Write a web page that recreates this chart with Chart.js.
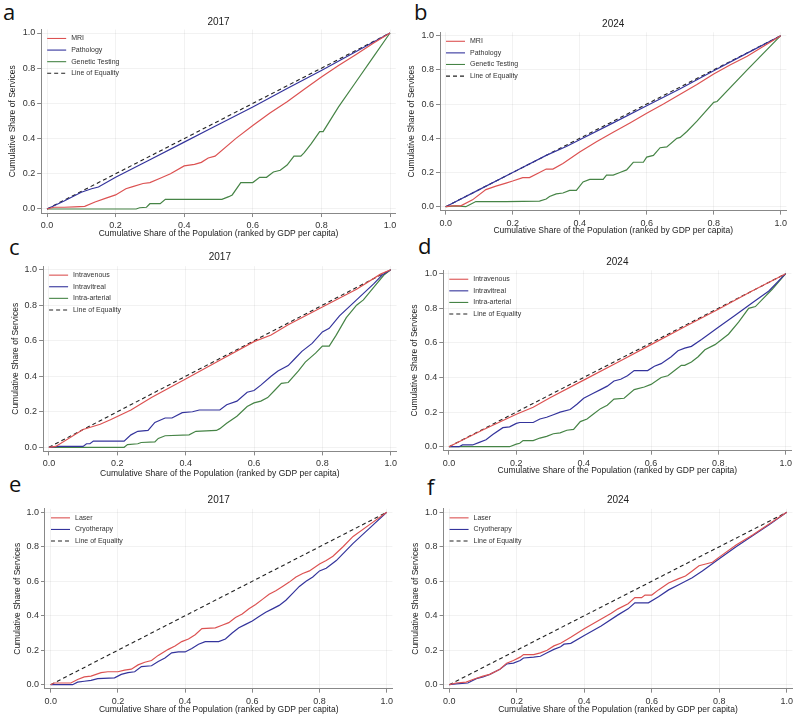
<!DOCTYPE html>
<html><head><meta charset="utf-8">
<script src="https://cdn.jsdelivr.net/npm/chart.js@4/dist/chart.umd.min.js"></script>
<style>
html,body{margin:0;padding:0;background:#fff;width:800px;height:725px;overflow:hidden;position:relative;font-family:"Liberation Sans",Arial,sans-serif}
canvas{position:absolute}
.lt{position:absolute;font-family:"Open Sans",sans-serif;font-size:22px;line-height:22px;color:#111}
</style></head><body>
<div class="lt" style="left:3px;top:0px">a</div>
<div class="lt" style="left:414px;top:0px">b</div>
<div class="lt" style="left:9px;top:235px">c</div>
<div class="lt" style="left:418px;top:234px">d</div>
<div class="lt" style="left:9px;top:472px">e</div>
<div class="lt" style="left:427px;top:475px">f</div>
<script>
// ---------- tick labels ----------
const axisTicks = [0, 0.2, 0.4, 0.6, 0.8, 1.0];
const xAxisTitle = 'Cumulative Share of the Population (ranked by GDP per capita)';
const yAxisTitle = 'Cumulative Share of Services';
const panelYears = ['2017', '2024', '2017', '2024', '2017', '2024'];

// ---------- line of equality ----------
const equalityX = [0, 1];
const equalityY = [0, 1];

// ---------- panel a (2017, diagnostics) ----------
const mriA_x = [0,0.02,0.05,0.08,0.11,0.14,0.17,0.2,0.23,0.25,0.28,0.3,0.33,0.36,0.4,0.43,0.45,0.47,0.49,0.55,0.6,0.65,0.7,0.75,0.8,0.85,0.9,0.95,1];
const mriA_y = [0,0.01,0.01,0.012,0.015,0.04,0.06,0.08,0.115,0.127,0.145,0.15,0.175,0.2,0.245,0.254,0.265,0.29,0.3,0.4,0.475,0.545,0.61,0.68,0.75,0.815,0.877,0.94,1];
const pathA_x = [0,0.05,0.1,0.13,0.15,0.2,0.3,0.4,0.47,0.5,0.57,0.6,0.7,0.8,0.9,1];
const pathA_y = [0,0.045,0.095,0.115,0.125,0.18,0.28,0.38,0.45,0.48,0.55,0.58,0.685,0.787,0.893,1];
const geneA_x = [0,0.26,0.27,0.29,0.3,0.33,0.345,0.51,0.53,0.54,0.565,0.6,0.62,0.64,0.66,0.68,0.7,0.72,0.74,0.75,0.77,0.795,0.805,0.85,0.9,0.95,1];
const geneA_y = [0,0,0.007,0.01,0.03,0.03,0.055,0.055,0.07,0.08,0.15,0.15,0.18,0.18,0.21,0.22,0.25,0.3,0.3,0.32,0.37,0.44,0.44,0.58,0.72,0.86,1];

// ---------- panel b (2024, diagnostics) ----------
const mriB_x = [0,0.02,0.045,0.08,0.12,0.15,0.18,0.2,0.23,0.25,0.28,0.3,0.32,0.35,0.4,0.45,0.5,0.55,0.6,0.65,0.7,0.75,0.8,0.85,0.9,0.95,1];
const mriB_y = [0,0.005,0.005,0.04,0.1,0.12,0.138,0.15,0.17,0.17,0.2,0.22,0.22,0.253,0.32,0.38,0.435,0.49,0.546,0.6,0.657,0.715,0.776,0.83,0.88,0.94,1];
const pathB_x = [0,0.1,0.2,0.3,0.36,0.4,0.5,0.6,0.7,0.8,0.9,1];
const pathB_y = [0,0.1,0.2,0.3,0.352,0.392,0.49,0.59,0.69,0.795,0.898,1];
const geneB_x = [0,0.03,0.06,0.07,0.09,0.18,0.28,0.3,0.31,0.33,0.35,0.37,0.39,0.41,0.43,0.47,0.48,0.5,0.52,0.54,0.56,0.59,0.6,0.62,0.64,0.66,0.69,0.7,0.72,0.75,0.8,0.81,0.9,1];
const geneB_y = [0,0.005,0,0.01,0.03,0.03,0.033,0.045,0.06,0.075,0.08,0.095,0.095,0.145,0.16,0.16,0.185,0.185,0.2,0.215,0.26,0.26,0.29,0.3,0.345,0.35,0.4,0.405,0.44,0.5,0.61,0.615,0.8,1];

// ---------- panel c (2017, routes) ----------
const ivC_x = [0,0.02,0.1,0.15,0.18,0.24,0.3,0.4,0.5,0.6,0.65,0.7,0.8,0.9,0.97,1];
const ivC_y = [0,0.005,0.1,0.13,0.155,0.21,0.28,0.385,0.49,0.595,0.632,0.69,0.79,0.89,0.975,1];
const ivtC_x = [0,0.03,0.1,0.11,0.12,0.13,0.22,0.24,0.26,0.29,0.31,0.34,0.36,0.39,0.42,0.44,0.5,0.52,0.55,0.58,0.6,0.62,0.65,0.67,0.7,0.72,0.74,0.77,0.8,0.82,0.85,0.9,0.95,0.975,1];
const ivtC_y = [0,0.005,0.005,0.02,0.02,0.035,0.035,0.07,0.09,0.095,0.14,0.165,0.165,0.195,0.2,0.21,0.21,0.24,0.26,0.31,0.32,0.35,0.4,0.43,0.46,0.5,0.54,0.585,0.65,0.67,0.74,0.83,0.92,0.97,1];
const iaC_x = [0,0.22,0.23,0.26,0.27,0.31,0.32,0.34,0.41,0.43,0.49,0.5,0.52,0.55,0.58,0.6,0.62,0.64,0.66,0.68,0.7,0.73,0.75,0.78,0.8,0.82,0.84,0.87,0.9,0.92,0.95,0.98,1];
const iaC_y = [0,0,0.015,0.02,0.027,0.03,0.05,0.065,0.07,0.09,0.095,0.105,0.135,0.175,0.23,0.25,0.26,0.28,0.32,0.36,0.365,0.43,0.48,0.53,0.57,0.57,0.63,0.73,0.8,0.83,0.9,0.97,1];

// ---------- panel d (2024, routes) ----------
const ivD_x = [0,0.1,0.2,0.25,0.3,0.4,0.5,0.6,0.7,0.8,0.9,1];
const ivD_y = [0,0.097,0.188,0.228,0.283,0.385,0.487,0.59,0.693,0.795,0.9,1];
const ivtD_x = [0,0.03,0.04,0.07,0.09,0.11,0.13,0.16,0.18,0.2,0.21,0.25,0.27,0.29,0.31,0.33,0.36,0.38,0.4,0.43,0.45,0.47,0.49,0.51,0.53,0.55,0.59,0.61,0.63,0.66,0.68,0.7,0.72,0.75,0.8,0.85,0.9,0.95,1];
const ivtD_y = [0,0,0.01,0.01,0.025,0.04,0.07,0.11,0.115,0.135,0.14,0.14,0.16,0.17,0.185,0.2,0.215,0.245,0.28,0.31,0.33,0.35,0.38,0.39,0.41,0.44,0.44,0.465,0.48,0.52,0.555,0.57,0.58,0.62,0.69,0.76,0.83,0.9,1];
const iaD_x = [0,0.18,0.2,0.21,0.22,0.25,0.27,0.29,0.31,0.33,0.35,0.37,0.39,0.41,0.43,0.45,0.47,0.49,0.52,0.55,0.58,0.6,0.63,0.65,0.67,0.69,0.7,0.72,0.74,0.76,0.79,0.81,0.83,0.86,0.89,0.91,0.93,0.96,1];
const iaD_y = [0,0,0.015,0.02,0.035,0.035,0.05,0.06,0.075,0.08,0.095,0.1,0.145,0.16,0.19,0.22,0.24,0.275,0.28,0.33,0.345,0.36,0.4,0.41,0.44,0.47,0.47,0.49,0.52,0.56,0.59,0.62,0.65,0.72,0.8,0.81,0.85,0.91,1];

// ---------- panel e (2017, focal therapy) ----------
const laserE_x = [0,0.01,0.06,0.08,0.1,0.12,0.15,0.17,0.2,0.22,0.24,0.26,0.28,0.3,0.32,0.35,0.37,0.39,0.41,0.43,0.45,0.49,0.51,0.53,0.55,0.57,0.59,0.61,0.63,0.65,0.67,0.69,0.71,0.73,0.75,0.77,0.8,0.82,0.84,0.87,0.9,0.95,1];
const laserE_y = [0,0.01,0.01,0.03,0.045,0.05,0.07,0.075,0.075,0.085,0.09,0.115,0.13,0.14,0.17,0.205,0.225,0.25,0.265,0.29,0.325,0.33,0.345,0.36,0.39,0.41,0.44,0.465,0.495,0.525,0.545,0.57,0.595,0.625,0.645,0.66,0.7,0.72,0.745,0.8,0.86,0.93,1];
const cryoE_x = [0,0.01,0.065,0.08,0.1,0.12,0.14,0.19,0.21,0.23,0.25,0.27,0.3,0.32,0.34,0.36,0.38,0.4,0.42,0.44,0.46,0.5,0.52,0.54,0.56,0.58,0.6,0.62,0.64,0.66,0.68,0.7,0.72,0.74,0.76,0.78,0.8,0.82,0.85,0.9,0.95,1];
const cryoE_y = [0,0,0,0.015,0.02,0.025,0.035,0.04,0.06,0.07,0.075,0.105,0.11,0.135,0.155,0.185,0.19,0.19,0.21,0.235,0.25,0.25,0.265,0.3,0.33,0.35,0.37,0.395,0.42,0.44,0.46,0.49,0.53,0.57,0.6,0.625,0.66,0.675,0.72,0.82,0.91,1];

// ---------- panel f (2024, focal therapy) ----------
const laserF_x = [0,0.02,0.05,0.07,0.1,0.12,0.15,0.17,0.19,0.21,0.22,0.25,0.27,0.29,0.31,0.33,0.36,0.4,0.44,0.48,0.5,0.53,0.55,0.57,0.58,0.6,0.62,0.65,0.68,0.7,0.72,0.74,0.76,0.78,0.8,0.85,0.9,0.95,1];
const laserF_y = [0,0.01,0.015,0.03,0.05,0.06,0.09,0.125,0.14,0.16,0.175,0.175,0.185,0.2,0.225,0.24,0.275,0.325,0.37,0.415,0.44,0.47,0.505,0.505,0.52,0.52,0.55,0.59,0.615,0.63,0.66,0.69,0.7,0.71,0.74,0.81,0.87,0.935,1];
const cryoF_x = [0,0.02,0.055,0.08,0.1,0.12,0.15,0.17,0.19,0.21,0.22,0.25,0.27,0.29,0.31,0.33,0.34,0.36,0.4,0.45,0.5,0.53,0.55,0.59,0.62,0.65,0.68,0.7,0.72,0.75,0.8,0.85,0.9,0.95,1];
const cryoF_y = [0,0.005,0.01,0.035,0.045,0.06,0.09,0.12,0.125,0.14,0.155,0.16,0.165,0.185,0.205,0.22,0.235,0.24,0.285,0.34,0.405,0.44,0.475,0.475,0.51,0.55,0.58,0.6,0.62,0.66,0.73,0.8,0.865,0.93,1];

// ---------- styles ----------
const RED = '#dc5252', BLUE = '#34349c', GREEN = '#468446', EQ = '#222222';
const FONT = '"Liberation Sans", Arial, sans-serif';

const panels = [
  {year: panelYears[0], box: [0, 0, 400, 240], x0: 47, x1: 390, y0: 209, y1: 33, titleY: 22, xTitleY: 234, yTitleX: 13,
   series: [['MRI', mriA_x, mriA_y, RED], ['Pathology', pathA_x, pathA_y, BLUE], ['Genetic Testing', geneA_x, geneA_y, GREEN]]},
  {year: panelYears[1], box: [400, 0, 400, 240], x0: 445.7, x1: 780.7, y0: 206.7, y1: 35.7, titleY: 24, xTitleY: 230.7, yTitleX: 411.7,
   series: [['MRI', mriB_x, mriB_y, RED], ['Pathology', pathB_x, pathB_y, BLUE], ['Genetic Testing', geneB_x, geneB_y, GREEN]]},
  {year: panelYears[2], box: [0, 240, 400, 240], x0: 49, x1: 396, y0: 447.3, y1: 269.7, titleY: 257.3, xTitleY: 473.3, yTitleX: 16,
   series: [['Intravenous', ivC_x, ivC_y, RED], ['Intravitreal', ivtC_x, ivtC_y, BLUE], ['Intra-arterial', iaC_x, iaC_y, GREEN]]},
  {year: panelYears[3], box: [400, 240, 400, 240], x0: 449, x1: 785.7, y0: 446.7, y1: 273.7, titleY: 262.7, xTitleY: 470.7, yTitleX: 415,
   series: [['Intravenous', ivD_x, ivD_y, RED], ['Intravitreal', ivtD_x, ivtD_y, BLUE], ['Intra-arterial', iaD_x, iaD_y, GREEN]]},
  {year: panelYears[4], box: [0, 480, 400, 245], x0: 50.7, x1: 386.7, y0: 684.7, y1: 512.3, titleY: 500.7, xTitleY: 710, yTitleX: 17.3,
   series: [['Laser', laserE_x, laserE_y, RED], ['Cryotherapy', cryoE_x, cryoE_y, BLUE]]},
  {year: panelYears[5], box: [400, 480, 400, 245], x0: 449.3, x1: 786.7, y0: 684.7, y1: 512.3, titleY: 500.7, xTitleY: 710, yTitleX: 416,
   series: [['Laser', laserF_x, laserF_y, RED], ['Cryotherapy', cryoF_x, cryoF_y, BLUE]]}
];

const MX = 0.017, MB = 0.023, MT = 0.02;
const TITLE_FS = 8.5, TITLE_LH = TITLE_FS * 1.2;

// Draws the panel year title and the in-plot legend (line samples + labels)
const panelDecor = {
  id: 'panelDecor',
  afterDraw(chart, args, opts) {
    const {ctx, chartArea} = chart;
    ctx.save();
    ctx.font = '10px ' + FONT;
    ctx.fillStyle = '#222';
    ctx.textAlign = 'center';
    ctx.textBaseline = 'middle';
    ctx.fillText(opts.text, (chartArea.left + chartArea.right) / 2, opts.y);
    // legend
    ctx.font = '7px ' + FONT;
    ctx.textAlign = 'left';
    chart.data.datasets.forEach((ds, i) => {
      const yy = chartArea.top + 9 + i * 11.6;
      ctx.beginPath();
      ctx.setLineDash(ds.borderDash || []);
      ctx.strokeStyle = ds.borderColor;
      ctx.lineWidth = 1.1;
      ctx.moveTo(chartArea.left + 6, yy);
      ctx.lineTo(chartArea.left + 25, yy);
      ctx.stroke();
      ctx.setLineDash([]);
      ctx.fillStyle = '#333';
      ctx.fillText(ds.label, chartArea.left + 30, yy);
    });
    ctx.restore();
  }
};

function pts(xs, ys) { return xs.map((v, i) => ({x: v, y: ys[i]})); }
function setTicks(scale) { scale.ticks = axisTicks.map(v => ({value: v})); }

panels.forEach(p => {
  const [px, py, w, h] = p.box;
  const cv = document.createElement('canvas');
  cv.width = w; cv.height = h;
  cv.style.left = px + 'px'; cv.style.top = py + 'px';
  cv.style.width = w + 'px'; cv.style.height = h + 'px';
  document.body.appendChild(cv);

  const xu = p.x1 - p.x0, yu = p.y0 - p.y1;
  const L = p.x0 - MX * xu, R = p.x1 + MX * xu;
  const B = p.y0 + MB * yu, T = p.y1 - MT * yu;

  const datasets = p.series.map(s => ({
    label: s[0], data: pts(s[1], s[2]), borderColor: s[3], backgroundColor: s[3],
    borderWidth: 1.2, pointRadius: 0, tension: 0, fill: false
  }));
  datasets.push({
    label: 'Line of Equality', data: pts(equalityX, equalityY), borderColor: EQ, backgroundColor: EQ,
    borderWidth: 1.1, borderDash: [4, 3], pointRadius: 0, tension: 0, fill: false
  });

  const tickFont = {family: FONT, size: 9};
  const titleFont = {family: FONT, size: TITLE_FS};
  const grid = {color: 'rgba(0,0,0,0.05)', tickColor: '#888', tickLength: 4, drawTicks: true};

  new Chart(cv, {
    type: 'line',
    data: {datasets},
    plugins: [panelDecor],
    options: {
      responsive: false, animation: false, events: [],
      layout: {padding: {left: 0, top: T - py, right: px + w - R, bottom: 0}},
      plugins: {
        tooltip: {enabled: false},
        legend: {display: false},
        panelDecor: {text: p.year, y: p.titleY - py}
      },
      scales: {
        x: {
          type: 'linear', min: -MX, max: 1 + MX,
          afterBuildTicks: setTicks,
          afterFit: s => { s.height = py + h - B; },
          ticks: {font: tickFont, color: '#333', padding: 3, maxRotation: 0, autoSkip: false,
                  callback: v => Number(v).toFixed(1)},
          grid: grid,
          border: {color: '#888', width: 1},
          title: {display: true, text: xAxisTitle, font: titleFont, color: '#222',
                  padding: {top: 0, bottom: (py + h) - p.xTitleY - TITLE_LH / 2}}
        },
        y: {
          type: 'linear', min: -MB, max: 1 + MT,
          afterBuildTicks: setTicks,
          afterFit: s => { s.width = L - px; },
          ticks: {font: tickFont, color: '#333', padding: 2, autoSkip: false,
                  callback: v => Number(v).toFixed(1)},
          grid: grid,
          border: {color: '#888', width: 1},
          title: {display: true, text: yAxisTitle, font: titleFont, color: '#222',
                  padding: {top: p.yTitleX - px - TITLE_LH / 2, bottom: 0}}
        }
      }
    }
  });
});
</script>
</body></html>
